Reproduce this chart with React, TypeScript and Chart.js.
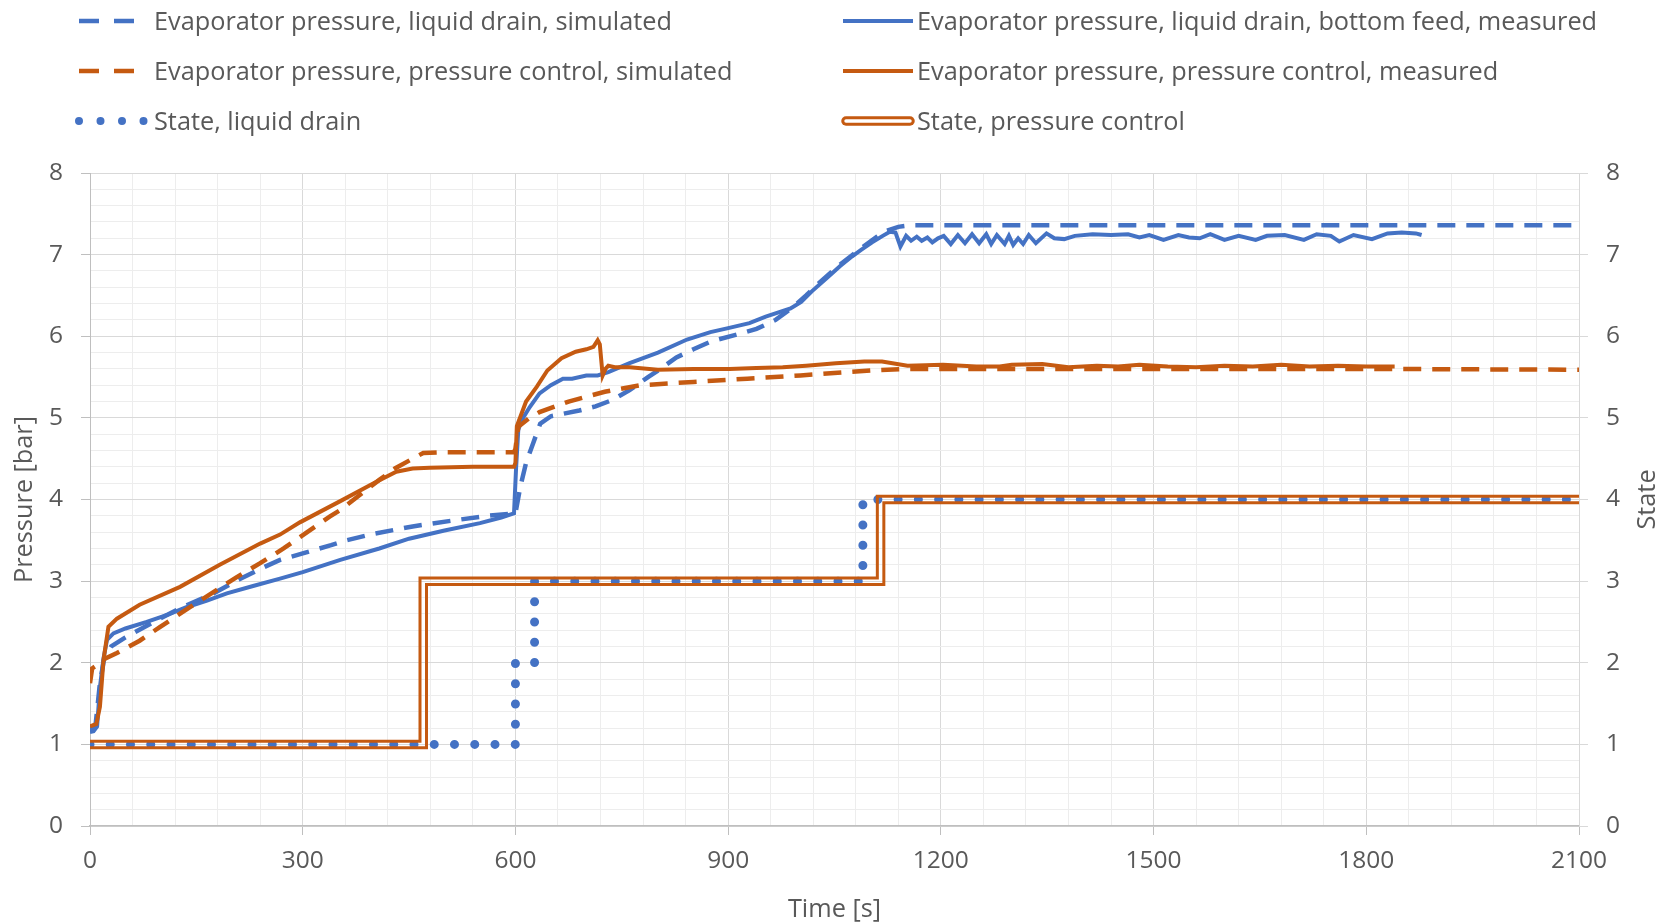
import React, { useEffect, useRef } from 'react';
import { Chart, registerables } from 'chart.js';

Chart.register(...registerables);

// ---------- colours & fonts ----------
const BLUE = '#4472C4';
const ORANGE = '#C55A11';
const TEXT = '#595959';
const GRID_MAJOR = '#D9D9D9';
const GRID_MINOR = '#EDEDED';
const AXIS_LINE = '#BFBFBF';
const FONT = "'Open Sans', 'Noto Sans', sans-serif";
const TICK_SIZE = 24.5;
const TEXT_SIZE = 25.3;

// ---------- series labels ----------
const LABEL_LD_SIM = 'Evaporator pressure, liquid drain, simulated';
const LABEL_LD_MEAS = 'Evaporator pressure, liquid drain, bottom feed, measured';
const LABEL_PC_SIM = 'Evaporator pressure, pressure control, simulated';
const LABEL_PC_MEAS = 'Evaporator pressure, pressure control, measured';
const LABEL_STATE_LD = 'State, liquid drain';
const LABEL_STATE_PC = 'State, pressure control';

// ---------- axes ----------
const X_MIN = 0;
const X_MAX = 2100;
const X_MAJOR = 300;
const X_MINOR = 60;
const Y_MIN = 0;
const Y_MAX = 8;
const Y_MINOR = 0.2;
const X_TITLE = 'Time [s]';
const Y_TITLE = 'Pressure [bar]';
const Y2_TITLE = 'State';

// ---------- data: liquid drain, simulated (blue dashed) ----------
const LD_SIM_T = [0, 8, 14, 20, 30, 50, 94, 130, 174, 210, 245, 268, 300, 340, 362, 400, 455, 510, 560, 600, 607, 615, 625, 635, 650, 690, 713, 737, 761, 787, 801, 827, 851, 877, 912, 940, 967, 992, 1010, 1028, 1058, 1088, 1110, 1123, 1140, 1158, 1500, 2100];
const LD_SIM_P = [1.18, 1.25, 1.75, 2.05, 2.2, 2.31, 2.52, 2.68, 2.85, 3.02, 3.17, 3.26, 3.34, 3.44, 3.5, 3.58, 3.67, 3.74, 3.8, 3.83, 4.16, 4.45, 4.69, 4.93, 5.02, 5.09, 5.14, 5.22, 5.34, 5.5, 5.58, 5.74, 5.84, 5.94, 6.02, 6.09, 6.2, 6.36, 6.5, 6.65, 6.88, 7.08, 7.22, 7.29, 7.34, 7.36, 7.36, 7.36];

// ---------- data: liquid drain, bottom feed, measured (blue solid) ----------
const LD_MEAS_T = [0, 5, 10, 14, 19, 24, 33, 50, 80, 110, 136, 165, 193, 230, 268, 300, 353, 408, 450, 500, 550, 580, 598, 601, 604, 608, 620, 634, 650, 667, 680, 700, 716, 731, 761, 801, 842, 875, 900, 930, 953, 988, 1003, 1018, 1040, 1058, 1075, 1088, 1103, 1118, 1128, 1136, 1143, 1151, 1158, 1166, 1173, 1181, 1188, 1196, 1204, 1214, 1224, 1234, 1244, 1254, 1264, 1271, 1279, 1290, 1296, 1302, 1309, 1316, 1324, 1334, 1349, 1360, 1374, 1389, 1414, 1440, 1464, 1480, 1494, 1514, 1535, 1550, 1565, 1580, 1600, 1620, 1644, 1660, 1685, 1712, 1730, 1750, 1762, 1782, 1808, 1830, 1850, 1870, 1878];
const LD_MEAS_P = [1.15, 1.16, 1.22, 1.7, 2.05, 2.28, 2.36, 2.42, 2.5, 2.59, 2.68, 2.76, 2.85, 2.94, 3.03, 3.11, 3.26, 3.4, 3.52, 3.62, 3.71, 3.78, 3.83, 4.4, 4.85, 4.96, 5.13, 5.3, 5.4, 5.48, 5.48, 5.52, 5.52, 5.56, 5.67, 5.8, 5.96, 6.05, 6.1, 6.16, 6.24, 6.34, 6.42, 6.55, 6.72, 6.86, 6.98, 7.06, 7.15, 7.23, 7.28, 7.27, 7.1, 7.23, 7.17, 7.22, 7.17, 7.21, 7.15, 7.2, 7.23, 7.13, 7.24, 7.14, 7.25, 7.14, 7.25, 7.13, 7.24, 7.13, 7.23, 7.12, 7.2, 7.13, 7.24, 7.14, 7.26, 7.2, 7.19, 7.23, 7.25, 7.24, 7.25, 7.21, 7.24, 7.18, 7.24, 7.21, 7.2, 7.25, 7.18, 7.23, 7.18, 7.23, 7.24, 7.18, 7.25, 7.23, 7.16, 7.24, 7.19, 7.26, 7.27, 7.26, 7.24];

// ---------- data: pressure control, simulated (orange dashed) ----------
const PC_SIM_T = [0, 3, 10, 21, 38, 70, 99, 141, 207, 240, 273, 338, 353, 408, 430, 455, 470, 500, 598, 600, 604, 620, 634, 675, 726, 776, 851, 927, 1002, 1102, 1153, 1500, 1800, 2100];
const PC_SIM_P = [1.75, 1.93, 1.97, 2.05, 2.12, 2.27, 2.44, 2.68, 3.05, 3.22, 3.4, 3.79, 3.87, 4.24, 4.38, 4.5, 4.57, 4.58, 4.58, 4.62, 4.89, 5.0, 5.07, 5.2, 5.32, 5.4, 5.44, 5.48, 5.52, 5.58, 5.6, 5.6, 5.6, 5.59];

// ---------- data: pressure control, measured (orange solid) ----------
const PC_MEAS_T = [0, 9, 14, 19, 26, 38, 70, 127, 183, 240, 268, 296, 353, 400, 432, 455, 479, 540, 598, 600, 602, 615, 630, 645, 665, 685, 700, 710, 716, 719, 723, 727, 731, 740, 761, 801, 851, 902, 940, 977, 1010, 1052, 1092, 1117, 1153, 1203, 1250, 1283, 1300, 1343, 1380, 1420, 1450, 1480, 1520, 1560, 1600, 1640, 1680, 1720, 1760, 1800, 1840];
const PC_MEAS_P = [1.22, 1.25, 1.46, 2.03, 2.44, 2.54, 2.71, 2.93, 3.2, 3.46, 3.57, 3.72, 3.98, 4.2, 4.34, 4.38, 4.39, 4.4, 4.4, 4.45, 4.9, 5.2, 5.38, 5.58, 5.73, 5.81, 5.84, 5.87, 5.95, 5.9, 5.52, 5.6, 5.64, 5.62, 5.62, 5.59, 5.6, 5.6, 5.61, 5.62, 5.64, 5.67, 5.69, 5.69, 5.64, 5.65, 5.63, 5.63, 5.65, 5.66, 5.62, 5.64, 5.63, 5.65, 5.63, 5.62, 5.64, 5.63, 5.65, 5.63, 5.64, 5.63, 5.63];

// ---------- data: states (step lines, right axis) ----------
const STATE_LD_T = [0, 600, 627, 1090, 2100];
const STATE_LD_S = [1, 2, 3, 4, 4];
const STATE_PC_T = [0, 470, 1115, 2100];
const STATE_PC_S = [1, 3, 4, 4];

const zip = (t: number[], v: number[]) => t.map((x, i) => ({ x, y: v[i] }));
const isMultiple = (v: number, step: number) => {
  const r = v / step;
  return Math.abs(r - Math.round(r)) < 1e-6;
};

// Legend layout: [dataset label, column, row, sample type]
const LEGEND_ITEMS: [string, number, number, string][] = [
  [LABEL_LD_SIM, 0, 0, 'dash'],
  [LABEL_LD_MEAS, 1, 0, 'solid'],
  [LABEL_PC_SIM, 0, 1, 'dash'],
  [LABEL_PC_MEAS, 1, 1, 'solid'],
  [LABEL_STATE_LD, 0, 2, 'dots'],
  [LABEL_STATE_PC, 1, 2, 'double'],
];
const LEGEND_ROW_Y = [21, 71, 121];
const LEGEND_COLS = [
  { x0: 79, x1: 144, tx: 154 },
  { x0: 843, x1: 913, tx: 917 },
];

const doubleLinePlugin = {
  id: 'doubleLine',
  afterDatasetsDraw(chart: any) {
    const idx = chart.data.datasets.findIndex((d: any) => d.label === LABEL_STATE_PC);
    if (idx < 0) return;
    const meta = chart.getDatasetMeta(idx);
    const pts = meta.data;
    if (!pts || !pts.length) return;
    const off = document.createElement('canvas');
    off.width = chart.canvas.width;
    off.height = chart.canvas.height;
    const o = off.getContext('2d') as CanvasRenderingContext2D;
    const dpr = chart.currentDevicePixelRatio || 1;
    o.scale(dpr, dpr);
    o.beginPath();
    o.moveTo(pts[0].x, pts[0].y);
    for (let i = 1; i < pts.length; i++) {
      o.lineTo(pts[i].x, pts[i - 1].y);
      o.lineTo(pts[i].x, pts[i].y);
    }
    o.lineJoin = 'miter';
    o.lineCap = 'butt';
    o.strokeStyle = ORANGE;
    o.lineWidth = 9.5;
    o.stroke();
    o.globalCompositeOperation = 'destination-out';
    o.lineWidth = 3.5;
    o.stroke();
    const ctx = chart.ctx;
    const a = chart.chartArea;
    ctx.save();
    ctx.beginPath();
    ctx.rect(a.left, a.top - 10, a.right - a.left, a.bottom - a.top + 20);
    ctx.clip();
    ctx.setTransform(1, 0, 0, 1, 0, 0);
    ctx.drawImage(off, 0, 0);
    ctx.restore();
  },
};

const legendPlugin = {
  id: 'customLegend',
  afterDraw(chart: any) {
    const ctx: CanvasRenderingContext2D = chart.ctx;
    ctx.save();
    LEGEND_ITEMS.forEach(([label, col, row, type]) => {
      const ds = chart.data.datasets.find((d: any) => d.label === label);
      if (!ds) return;
      const c = LEGEND_COLS[col];
      const y = LEGEND_ROW_Y[row];
      const color = ds.legendColor || ds.borderColor;
      ctx.save();
      ctx.strokeStyle = color;
      if (type === 'dash') {
        ctx.lineWidth = 4.5;
        ctx.lineCap = 'butt';
        ctx.setLineDash([20, 15]);
        ctx.beginPath();
        ctx.moveTo(c.x0, y);
        ctx.lineTo(c.x0 + 55, y);
        ctx.stroke();
      } else if (type === 'solid') {
        ctx.lineWidth = 4;
        ctx.beginPath();
        ctx.moveTo(c.x0, y);
        ctx.lineTo(c.x1, y);
        ctx.stroke();
      } else if (type === 'dots') {
        ctx.lineWidth = 8;
        ctx.lineCap = 'round';
        ctx.setLineDash([0, 21.5]);
        ctx.beginPath();
        ctx.moveTo(c.x0, y);
        ctx.lineTo(c.x1 + 1, y);
        ctx.stroke();
      } else if (type === 'double') {
        ctx.lineCap = 'round';
        ctx.lineWidth = 9.5;
        ctx.beginPath();
        ctx.moveTo(c.x0 + 3, y);
        ctx.lineTo(c.x1 - 3, y);
        ctx.stroke();
        ctx.strokeStyle = '#FFFFFF';
        ctx.lineWidth = 3.5;
        ctx.beginPath();
        ctx.moveTo(c.x0 + 3, y);
        ctx.lineTo(c.x1 - 3, y);
        ctx.stroke();
      }
      ctx.restore();
      ctx.fillStyle = TEXT;
      ctx.font = `${TEXT_SIZE}px ${FONT}`;
      ctx.textAlign = 'left';
      ctx.textBaseline = 'alphabetic';
      ctx.fillText(label, c.tx, y + 9);
    });
    // right axis title, rotated like the left one
    const y2 = chart.scales.y2;
    if (y2) {
      ctx.save();
      ctx.translate(1648, (chart.chartArea.top + chart.chartArea.bottom) / 2);
      ctx.rotate(-Math.PI / 2);
      ctx.fillStyle = TEXT;
      ctx.font = `${TEXT_SIZE}px ${FONT}`;
      ctx.textAlign = 'center';
      ctx.textBaseline = 'middle';
      ctx.fillText(Y2_TITLE, 0, 0);
      ctx.restore();
    }
    ctx.restore();
  },
};

export default function App() {
  const ref = useRef<HTMLCanvasElement | null>(null);

  useEffect(() => {
    document.body.style.margin = '0';
    let chart: any = null;
    let cancelled = false;

    const make = () => {
      if (cancelled || !ref.current) return;
      const tickFont = { family: FONT, size: TICK_SIZE };
      const titleFont = { family: FONT, size: TEXT_SIZE, lineHeight: 1.0 };
      const gridColor = (major: number) => (c: any) =>
        c.tick && isMultiple(c.tick.value, major) ? GRID_MAJOR : GRID_MINOR;
      const tickColor = (major: number) => (c: any) =>
        c.tick && isMultiple(c.tick.value, major) ? AXIS_LINE : 'rgba(0,0,0,0)';

      chart = new Chart(ref.current, {
        type: 'line',
        data: {
          datasets: [
            {
              label: LABEL_LD_SIM,
              data: zip(LD_SIM_T, LD_SIM_P),
              borderColor: BLUE,
              borderWidth: 4.5,
              borderDash: [18, 11],
              pointRadius: 0,
              yAxisID: 'y',
              order: 6,
            },
            {
              label: LABEL_LD_MEAS,
              data: zip(LD_MEAS_T, LD_MEAS_P),
              borderColor: BLUE,
              borderWidth: 4,
              pointRadius: 0,
              yAxisID: 'y',
              order: 5,
            },
            {
              label: LABEL_PC_SIM,
              data: zip(PC_SIM_T, PC_SIM_P),
              borderColor: ORANGE,
              borderWidth: 4.5,
              borderDash: [18, 11],
              pointRadius: 0,
              yAxisID: 'y',
              order: 4,
            },
            {
              label: LABEL_PC_MEAS,
              data: zip(PC_MEAS_T, PC_MEAS_P),
              borderColor: ORANGE,
              borderWidth: 4,
              pointRadius: 0,
              yAxisID: 'y',
              order: 3,
            },
            {
              label: LABEL_STATE_LD,
              data: zip(STATE_LD_T, STATE_LD_S),
              borderColor: BLUE,
              borderWidth: 9,
              borderDash: [0, 20.25],
              borderCapStyle: 'round',
              stepped: 'before',
              pointRadius: 0,
              yAxisID: 'y2',
              order: 2,
            },
            {
              label: LABEL_STATE_PC,
              data: zip(STATE_PC_T, STATE_PC_S),
              borderColor: 'rgba(0,0,0,0)',
              legendColor: ORANGE,
              borderWidth: 0,
              stepped: 'before',
              pointRadius: 0,
              yAxisID: 'y2',
              order: 1,
            } as any,
          ],
        },
        options: {
          responsive: false,
          animation: false,
          devicePixelRatio: 1,
          layout: { padding: { top: 173, left: 0, right: 0, bottom: 0 } },
          plugins: {
            legend: { display: false },
            tooltip: { enabled: false },
          },
          elements: { line: { tension: 0 } },
          scales: {
            x: {
              type: 'linear',
              min: X_MIN,
              max: X_MAX,
              ticks: {
                stepSize: X_MINOR,
                autoSkip: false,
                maxRotation: 0,
                minRotation: 0,
                padding: 11,
                color: TEXT,
                font: tickFont,
                callback: (v: any) => (isMultiple(Number(v), X_MAJOR) ? String(Math.round(Number(v))) : ''),
              },
              grid: {
                color: gridColor(X_MAJOR),
                tickColor: tickColor(X_MAJOR),
                tickLength: 9,
                lineWidth: 1,
              },
              border: { color: AXIS_LINE, width: 1.5 },
              title: {
                display: true,
                text: X_TITLE,
                color: TEXT,
                font: titleFont,
                padding: { top: 0, bottom: 0 },
              },
              afterFit: (s: any) => {
                s.height = 96;
              },
            },
            y: {
              type: 'linear',
              position: 'left',
              min: Y_MIN,
              max: Y_MAX,
              ticks: {
                stepSize: Y_MINOR,
                autoSkip: false,
                padding: 18,
                color: TEXT,
                font: tickFont,
                callback: (v: any) => (isMultiple(Number(v), 1) ? String(Math.round(Number(v))) : ''),
              },
              grid: {
                color: gridColor(1),
                tickColor: tickColor(1),
                tickLength: 9,
                lineWidth: 1,
              },
              border: { color: AXIS_LINE, width: 1 },
              title: {
                display: true,
                text: Y_TITLE,
                color: TEXT,
                font: titleFont,
                padding: { top: 12, bottom: 0 },
              },
              afterFit: (s: any) => {
                s.width = 90;
              },
            },
            y2: {
              type: 'linear',
              position: 'right',
              min: Y_MIN,
              max: Y_MAX,
              ticks: {
                stepSize: 1,
                autoSkip: false,
                padding: 18,
                color: TEXT,
                font: tickFont,
              },
              grid: {
                drawOnChartArea: false,
                tickColor: GRID_MAJOR,
                tickLength: 9,
              },
              border: { color: GRID_MAJOR, width: 1 },
              title: { display: false },
              afterFit: (s: any) => {
                s.width = 89;
              },
            },
          },
        },
        plugins: [doubleLinePlugin, legendPlugin],
      } as any);
    };

    const fonts: any = (document as any).fonts;
    if (fonts && fonts.load) {
      Promise.all([fonts.load(`${TEXT_SIZE}px 'Open Sans'`)]).then(make, make);
    } else {
      make();
    }
    return () => {
      cancelled = true;
      if (chart) chart.destroy();
    };
  }, []);

  return (
    <div style={{ width: 1668, height: 922, background: '#FFFFFF', overflow: 'hidden' }}>
      <canvas ref={ref} width={1668} height={922} style={{ display: 'block' }} />
    </div>
  );
}
